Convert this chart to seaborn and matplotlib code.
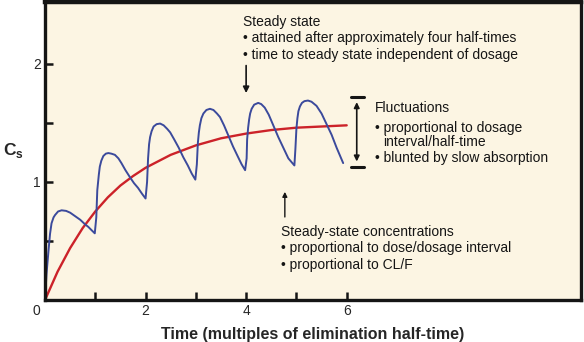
import matplotlib
matplotlib.use("Agg")
import matplotlib.pyplot as plt
import seaborn as sns
import pandas as pd

# ---- data ----
blue_t = [0.0, 0.03, 0.07, 0.10, 0.13, 0.17, 0.20, 0.26, 0.33, 0.42, 0.50, 0.60, 0.70, 0.80, 0.86, 0.93, 0.99,
          1.02, 1.04, 1.07, 1.09, 1.12, 1.16, 1.21, 1.26, 1.32, 1.39, 1.46, 1.52, 1.60, 1.69, 1.77, 1.85, 1.93, 2.00,
          2.03, 2.05, 2.07, 2.09, 2.12, 2.16, 2.22, 2.29, 2.36, 2.43, 2.49, 2.57, 2.66, 2.75, 2.84, 2.92, 2.99,
          3.02, 3.04, 3.06, 3.08, 3.11, 3.15, 3.21, 3.28, 3.35, 3.42, 3.48, 3.56, 3.65, 3.74, 3.83, 3.91, 3.98,
          4.01, 4.02, 4.04, 4.06, 4.08, 4.11, 4.16, 4.24, 4.30, 4.37, 4.45, 4.54, 4.64, 4.74, 4.84, 4.90, 4.96,
          4.98, 5.00, 5.02, 5.04, 5.07, 5.11, 5.16, 5.23, 5.30, 5.40, 5.50, 5.60, 5.70, 5.80, 5.87, 5.93]
blue_c = [0.00, 0.22, 0.42, 0.56, 0.65, 0.70, 0.72, 0.75, 0.76, 0.755, 0.74, 0.71, 0.68, 0.64, 0.62, 0.59, 0.565,
          0.70, 0.93, 1.06, 1.13, 1.18, 1.22, 1.24, 1.245, 1.24, 1.23, 1.20, 1.16, 1.10, 1.04, 0.99, 0.95, 0.90, 0.86,
          1.00, 1.20, 1.32, 1.38, 1.43, 1.47, 1.49, 1.495, 1.48, 1.45, 1.42, 1.36, 1.29, 1.21, 1.14, 1.07, 1.02,
          1.15, 1.33, 1.42, 1.48, 1.54, 1.58, 1.61, 1.62, 1.61, 1.58, 1.55, 1.48, 1.39, 1.30, 1.22, 1.15, 1.10,
          1.20, 1.36, 1.46, 1.53, 1.58, 1.62, 1.655, 1.67, 1.66, 1.63, 1.57, 1.48, 1.38, 1.29, 1.20, 1.17, 1.14,
          1.28, 1.45, 1.54, 1.60, 1.64, 1.67, 1.685, 1.69, 1.68, 1.645, 1.58, 1.49, 1.40, 1.29, 1.22, 1.16]

red_t = [0.0, 0.25, 0.5, 0.75, 1.0, 1.25, 1.5, 1.75, 2.0, 2.5, 3.0, 3.5, 4.0, 4.5, 5.0, 5.5, 6.0]
red_c = [0.0, 0.24, 0.44, 0.61, 0.75, 0.87, 0.97, 1.05, 1.12, 1.23, 1.31, 1.37, 1.41, 1.44, 1.46, 1.47, 1.48]

x_ticks = [0, 1, 2, 3, 4, 5, 6]
x_tick_labels = ["", "", "2", "", "4", "", "6"]
y_ticks = [0.5, 1.0, 1.5, 2.0]
y_tick_labels = ["", "1", "", "2"]

steady_lines = ["Steady state",
                "• attained after approximately four half-times",
                "• time to steady state independent of dosage"]
fluct_lines = ["Fluctuations",
               "• proportional to dosage",
               "interval/half-time",
               "• blunted by slow absorption"]
conc_lines = ["Steady-state concentrations",
              "• proportional to dose/dosage interval",
              "• proportional to CL/F"]

blue_df = pd.DataFrame({"t": blue_t, "c": blue_c})
red_df = pd.DataFrame({"t": red_t, "c": red_c})

sns.set_style("white")
plt.rcParams["font.family"] = ["Liberation Sans", "DejaVu Sans"]

BG = "#FCF5E3"
BLUE = "#3B4A9C"
RED = "#CC2229"
INK = "#151515"

fig = plt.figure(figsize=(5.84, 3.42), dpi=100)
fig.patch.set_facecolor("white")
ax = fig.add_axes([45 / 584, 42 / 342, (581 - 45) / 584, (300 - 2) / 342])
ax.set_facecolor(BG)

sns.lineplot(data=red_df, x="t", y="c", ax=ax, color=RED, lw=1.7, sort=False, estimator=None)
sns.lineplot(data=blue_df, x="t", y="c", ax=ax, color=BLUE, lw=1.4, sort=False, estimator=None)

ax.set_xlim(0, 10.66)
ax.set_ylim(0, 2.525)

for s in ax.spines.values():
    s.set_visible(True)
    s.set_color(INK)
    s.set_linewidth(2.4)
ax.spines["top"].set_linewidth(3.2)

ax.set_xticks(x_ticks)
ax.set_xticklabels(x_tick_labels)
ax.set_yticks(y_ticks)
ax.set_yticklabels(y_tick_labels)
ax.tick_params(bottom=True, left=True, top=False, right=False,
               direction="in", length=6, width=1.8, color=INK, labelsize=10, pad=3)

ax.set_xlabel("Time (multiples of elimination half-time)", fontsize=11.5, fontweight="bold", labelpad=6)
ax.set_ylabel("")
fig.text(3 / 584, 1 - 150 / 342, r"C$_\mathregular{s}$", fontsize=12.5, fontweight="bold", va="center", ha="left")
ax.annotate("0", xy=(0, 0), xytext=(-6, -3), textcoords="offset points", ha="center", va="top",
            fontsize=10, annotation_clip=False)

fs = 10
# Steady state
for txt, yy in zip(steady_lines, [2.358, 2.218, 2.076]):
    ax.text(3.94, yy, txt, fontsize=fs, va="center", ha="left", color=INK)
ax.annotate("", xy=(4.0, 1.73), xytext=(4.0, 2.01),
            arrowprops=dict(arrowstyle="-|>", color=INK, lw=1.2, mutation_scale=9))

# Fluctuations
ax.plot([6.08, 6.34], [1.72, 1.72], color=INK, lw=2.2)
ax.plot([6.08, 6.34], [1.13, 1.13], color=INK, lw=2.2)
ax.annotate("", xy=(6.2, 1.70), xytext=(6.2, 1.15),
            arrowprops=dict(arrowstyle="<|-|>", color=INK, lw=1.2, mutation_scale=8))
for txt, xx, yy in zip(fluct_lines, [6.56, 6.56, 6.72, 6.56], [1.627, 1.458, 1.339, 1.203]):
    ax.text(xx, yy, txt, fontsize=fs, va="center", ha="left", color=INK)

# Steady-state concentrations
ax.annotate("", xy=(4.77, 0.94), xytext=(4.77, 0.68),
            arrowprops=dict(arrowstyle="-|>", color=INK, lw=1.0, mutation_scale=7))
for txt, yy in zip(conc_lines, [0.576, 0.441, 0.297]):
    ax.text(4.69, yy, txt, fontsize=fs, va="center", ha="left", color=INK)

fig.savefig("out.png", dpi=100, facecolor="white")
